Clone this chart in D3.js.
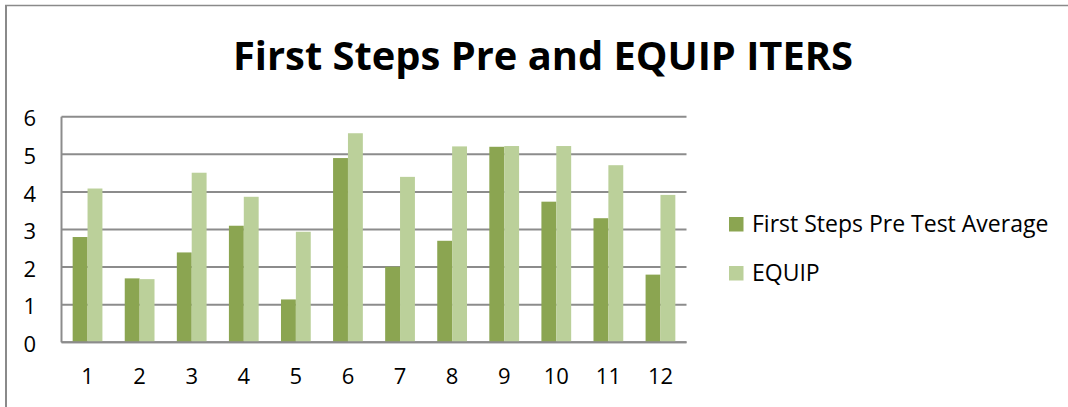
<!DOCTYPE html>
<html>
<head>
<meta charset="utf-8">
<script src="https://cdn.jsdelivr.net/npm/d3@7"></script>
<style>
  html, body { margin: 0; padding: 0; background: #fff; }
  svg { display: block; }
  text { font-family: "Open Sans", Lato, sans-serif; fill: #000; }
</style>
</head>
<body>
<svg id="chart" width="1068" height="407"></svg>
<script>
// Item numbers along the x axis
const categories = ["1", "2", "3", "4", "5", "6", "7", "8", "9", "10", "11", "12"];
// Series values
const preTestAverage = [2.8, 1.7, 2.39, 3.1, 1.14, 4.9, 2.01, 2.7, 5.2, 3.74, 3.3, 1.8];
const equip = [4.09, 1.68, 4.51, 3.87, 2.94, 5.56, 4.4, 5.21, 5.22, 5.22, 4.71, 3.92];
const seriesNames = ["First Steps Pre Test Average", "EQUIP"];
const yTicks = [0, 1, 2, 3, 4, 5, 6];

const colors = ["#8ba551", "#bbd09a"];
const gridColor = "#8c8c8c";

const svg = d3.select("#chart");

// Outer frame: left and top edges
svg.append("line").attr("x1", 6).attr("x2", 6).attr("y1", 5).attr("y2", 407)
  .attr("stroke", "#8a8a8a").attr("stroke-width", 2);
svg.append("line").attr("x1", 5).attr("x2", 1068).attr("y1", 5.5).attr("y2", 5.5)
  .attr("stroke", "#8a8a8a").attr("stroke-width", 1.5);

// Title
svg.append("text")
  .attr("x", 233).attr("y", 70)
  .attr("textLength", 620).attr("lengthAdjust", "spacingAndGlyphs")
  .style("font-weight", 700).style("font-size", "39px")
  .text("First Steps Pre and EQUIP ITERS");

const plot = { left: 61.5, right: 686.5, top: 116.7, bottom: 342.3 };

const x = d3.scaleBand().domain(categories).range([plot.left, plot.right]).paddingInner(0).paddingOuter(0);
const y = d3.scaleLinear().domain([0, 6]).range([plot.bottom, plot.top]);

// Two bars per band, with a 150% gap between groups
const barW = x.bandwidth() / 3.5;
const xs = d3.scaleBand().domain([0, 1]).range([0.75 * barW, 2.75 * barW]).padding(0);

// Gridlines
const grid = svg.append("g");
grid.selectAll("line").data(yTicks).join("line")
  .attr("x1", plot.left).attr("x2", plot.right)
  .attr("y1", d => y(d)).attr("y2", d => y(d))
  .attr("stroke", gridColor).attr("stroke-width", 2);

// Bars
const rows = categories.map((c, i) => ({ c, v: [preTestAverage[i], equip[i]] }));
const groups = svg.append("g").selectAll("g").data(rows).join("g")
  .attr("transform", d => `translate(${x(d.c)},0)`);
groups.selectAll("rect").data(d => d.v.map((v, k) => ({ v, k }))).join("rect")
  .attr("x", d => xs(d.k))
  .attr("width", xs.bandwidth())
  .attr("y", d => y(d.v))
  .attr("height", d => y(0) - y(d.v))
  .attr("fill", d => colors[d.k]);

// Axis lines
svg.append("line").attr("x1", plot.left).attr("x2", plot.left)
  .attr("y1", plot.top).attr("y2", plot.bottom)
  .attr("stroke", gridColor).attr("stroke-width", 2);
svg.append("line").attr("x1", plot.left).attr("x2", plot.right)
  .attr("y1", plot.bottom).attr("y2", plot.bottom)
  .attr("stroke", gridColor).attr("stroke-width", 2);

// Y axis labels
const yAxis = d3.axisLeft(y).tickValues(yTicks).tickSize(0).tickPadding(0).tickFormat(d3.format("d"));
const yG = svg.append("g").attr("transform", "translate(36,0)").call(yAxis);
yG.select(".domain").remove();
yG.selectAll("text").style("font-size", "22px").style("font-family", "'Open Sans', sans-serif")
  .attr("fill", "#000").attr("dy", "0.42em");

// X axis labels
const xAxis = d3.axisBottom(x).tickSize(0).tickPadding(0);
const xG = svg.append("g").attr("transform", `translate(0,${plot.bottom})`).call(xAxis);
xG.select(".domain").remove();
xG.selectAll("text").style("font-size", "22px").style("font-family", "'Open Sans', sans-serif")
  .attr("fill", "#000").attr("dy", null).attr("y", 41.5);

// Legend
const legend = svg.append("g").selectAll("g").data(seriesNames).join("g")
  .attr("transform", (d, i) => `translate(729,${217 + i * 49})`);
legend.append("rect").attr("width", 14.5).attr("height", 14.5)
  .attr("fill", (d, i) => colors[i]);
legend.append("text").attr("x", 23).attr("y", 14.8)
  .style("font-size", "23px")
  .text(d => d);
</script>
</body>
</html>
